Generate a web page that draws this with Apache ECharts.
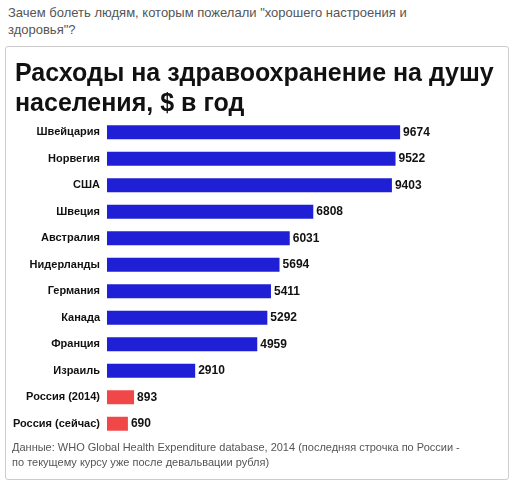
<!DOCTYPE html>
<html><head><meta charset="utf-8">
<script src="https://cdn.jsdelivr.net/npm/echarts@6/dist/echarts.min.js"></script>
<style>
body{margin:0;background:#fff;font-family:Arial,"Liberation Sans",sans-serif;}
#hdr{position:absolute;left:8px;top:4px;width:450px;font-size:13px;color:#555;line-height:17px;}
#box{position:absolute;left:5px;top:46px;width:502px;height:432px;border:1px solid #ccc;border-radius:3px;}
#c{position:absolute;left:0;top:0;width:515px;height:483px;}
</style></head><body>
<div id="hdr">Зачем болеть людям, которым пожелали "хорошего настроения и здоровья"?</div>
<div id="box"></div>
<div id="c"></div>
<script>
const categories=["Швейцария","Норвегия","США","Швеция","Австралия","Нидерланды","Германия","Канада","Франция","Израиль","Россия (2014)","Россия (сейчас)"];
const values=[9674,9522,9403,6808,6031,5694,5411,5292,4959,2910,893,690];
const colors=values.map((v,i)=>i>=10?'#f04848':'#1f1fd6');
const ch=echarts.init(document.getElementById('c'));
ch.setOption({
 animation:false,
 title:{text:'Расходы на здравоохранение на душу\nнаселения, $ в год',left:10,top:54,textStyle:{fontSize:25,fontWeight:'bold',color:'#111',lineHeight:30,fontFamily:'Liberation Sans'}},
 graphic:[{type:'text',left:12,top:440,style:{text:'Данные: WHO Global Health Expenditure database, 2014 (последняя строчка по России -\nпо текущему курсу уже после девальвации рубля)',fontSize:11,fill:'#555',lineHeight:15,fontFamily:'Liberation Sans'}}],
 grid:{left:107,right:105,top:119,height:318},
 xAxis:{type:'value',min:0,max:10000,show:false},
 yAxis:{type:'category',data:categories,inverse:true,axisLine:{show:false},axisTick:{show:false},
  axisLabel:{fontSize:11,fontWeight:'bold',color:'#111',margin:7,fontFamily:'Liberation Sans'}},
 series:[{type:'bar',data:values.map((v,i)=>({value:v,itemStyle:{color:colors[i]}})),barWidth:14,
  label:{show:true,position:'right',distance:3,fontSize:12,fontWeight:'bold',color:'#111',fontFamily:'Liberation Sans'}}]
});
</script></body></html>
